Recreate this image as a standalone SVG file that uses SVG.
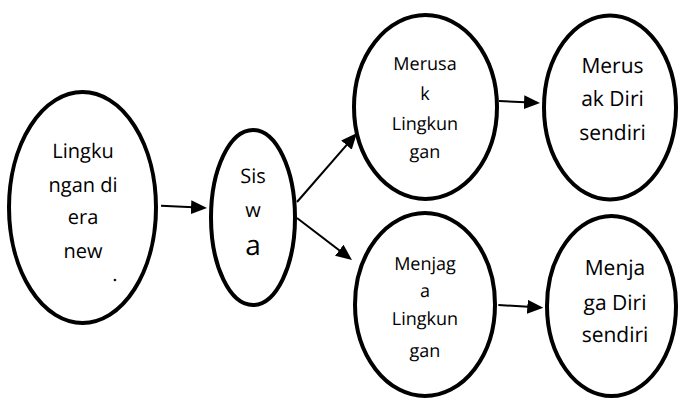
<svg xmlns="http://www.w3.org/2000/svg" width="681" height="400" viewBox="0 0 681 400">
<defs>
<style>
.node ellipse{fill:#fff;stroke:#000;stroke-width:4}
.node text{font-family:"Open Sans","Liberation Sans",Arial,sans-serif;fill:#000;text-anchor:middle;text-rendering:geometricPrecision}
.conn line{stroke:#000;stroke-width:2;marker-end:url(#ah)}
</style>
<marker id="ah" markerUnits="userSpaceOnUse" markerWidth="16" markerHeight="14" refX="13" refY="7" orient="auto">
<path d="M0,0 L16,7 L0,14 z" fill="#000"/>
</marker>
</defs>
<rect width="681" height="400" fill="#fff"/>
<g id="connectors" class="conn">
<line x1="161" y1="205.7" x2="204" y2="207.85"/>
<line x1="297" y1="202" x2="355" y2="135.3"/>
<line x1="297" y1="218" x2="349.6" y2="258.2"/>
<line x1="499" y1="101" x2="537" y2="102.85"/>
<line x1="498.3" y1="305" x2="540.3" y2="307.5"/>
</g>
<g id="node-lingkungan" class="node">
<ellipse cx="82.5" cy="207.5" rx="73.5" ry="115.5"/>
<text x="83" y="158" font-size="20">Lingku</text>
<text x="83" y="192" font-size="20">ngan di</text>
<text x="83" y="224" font-size="20">era</text>
<text x="83" y="258" font-size="20">new</text>
<text x="115" y="281" font-size="20">.</text>
</g>
<g id="node-siswa" class="node">
<ellipse cx="253" cy="217.5" rx="42" ry="87.5"/>
<text x="253" y="183" font-size="20">Sis</text>
<text x="253" y="217" font-size="20">w</text>
<text x="253" y="255" font-size="28">a</text>
</g>
<g id="node-merusak-lingkungan" class="node">
<ellipse cx="425.5" cy="107" rx="71.5" ry="92"/>
<text x="425" y="70" font-size="18">Merusa</text>
<text x="425" y="100" font-size="18">k</text>
<text x="425" y="130" font-size="18">Lingkun</text>
<text x="425" y="158" font-size="18">gan</text>
</g>
<g id="node-merusak-diri" class="node">
<ellipse cx="610" cy="107.5" rx="66" ry="92"/>
<text x="612.5" y="73" font-size="21">Merus</text>
<text x="612.5" y="106" font-size="21">ak Diri</text>
<text x="612.5" y="140" font-size="21">sendiri</text>
</g>
<g id="node-menjaga-lingkungan" class="node">
<ellipse cx="425" cy="304.5" rx="70" ry="91.5"/>
<text x="425" y="270" font-size="18">Menjag</text>
<text x="425" y="297" font-size="18">a</text>
<text x="425" y="325" font-size="18">Lingkun</text>
<text x="425" y="357" font-size="18">gan</text>
</g>
<g id="node-menjaga-diri" class="node">
<ellipse cx="611.5" cy="306" rx="64.5" ry="90"/>
<text x="615" y="275" font-size="21">Menja</text>
<text x="615" y="310" font-size="21">ga Diri</text>
<text x="615" y="342" font-size="21">sendiri</text>
</g>
</svg>
